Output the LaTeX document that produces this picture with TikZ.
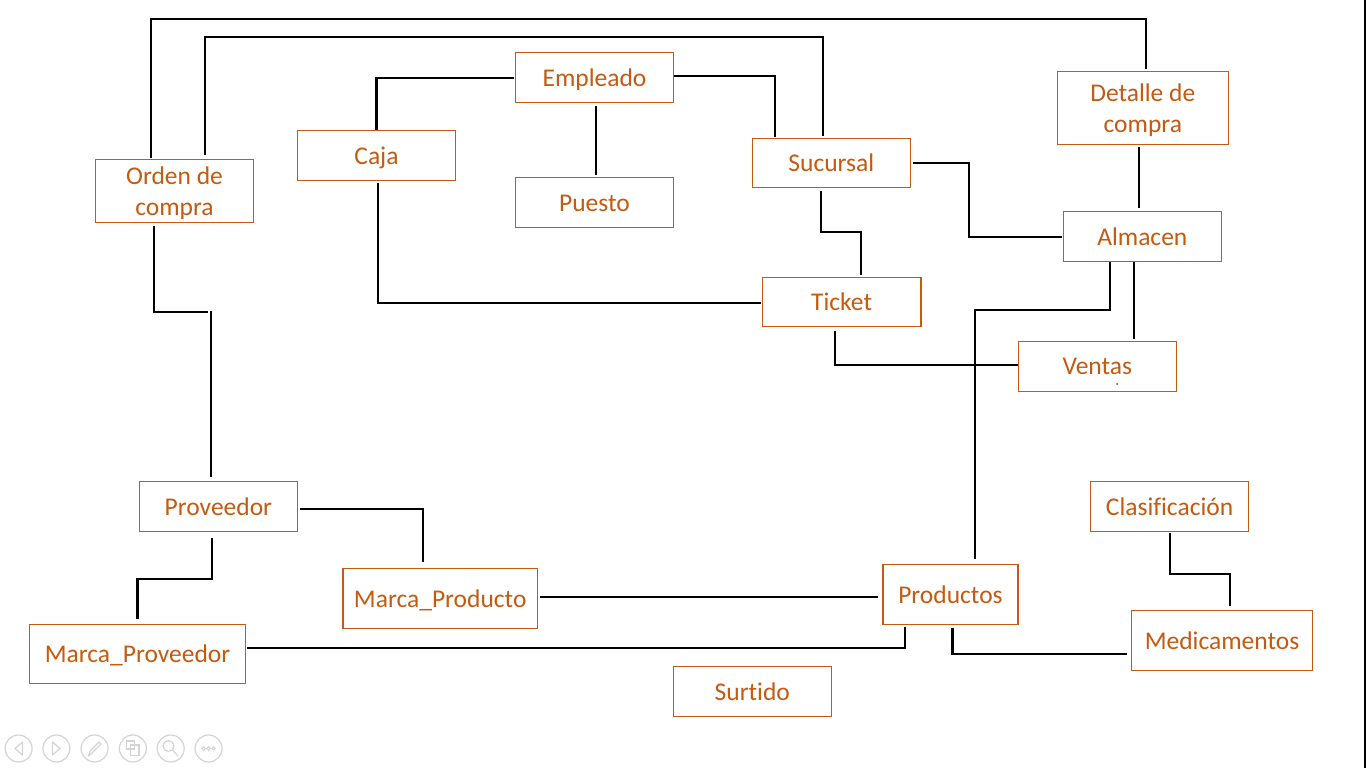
\documentclass[tikz,border=0pt]{standalone}
\usepackage{fontspec}
\setmainfont{Carlito}[Ligatures=NoCommon]
\usetikzlibrary{calc}
\definecolor{entorange}{HTML}{C55A11}
\definecolor{icongray}{HTML}{D4D4D4}
\begin{document}
\begin{tikzpicture}[x=1pt,y=-1pt,
  entbox/.style={draw=entorange, line width=1.3pt, text=entorange, inner sep=0pt, align=center, font=\fontsize{25.5}{30.5}\selectfont},
  oneline/.style={entbox, text height=22pt, text depth=4.6pt},
  rel/.style={draw=black, line width=2.2pt},
  icon/.style={draw=icongray, line width=1.2pt}]
\useasboundingbox (0,0) rectangle (1366,768);
\fill[white] (0,0) rectangle (1366,768);
% entities
\node[entbox, minimum width=158.4pt, minimum height=63pt] (orden) at (174.5,190.8) {\rule{0pt}{23pt}Orden de\\compra};
\node[oneline, minimum width=158.4pt, minimum height=50pt] (caja) at (376.5,155.3) {Caja};
\node[oneline, minimum width=158.4pt, minimum height=50pt] (empleado) at (594.5,77.3) {Empleado};
\node[oneline, minimum width=158.4pt, minimum height=50pt] (puesto) at (594.5,202.3) {Puesto};
\node[oneline, minimum width=158pt, minimum height=49pt] (sucursal) at (831.3,162.8) {Sucursal};
\node[oneline, minimum width=158.7pt, minimum height=49pt] (ticket) at (841.6,301.8) {Ticket};
\node[entbox, minimum width=171pt, minimum height=73pt] (detalle) at (1142.8,107.8) {\rule{0pt}{23pt}Detalle de\\compra};
\node[oneline, minimum width=158pt, minimum height=50pt] (almacen) at (1142.3,236.3) {Almacen};
\node[oneline, minimum width=158pt, minimum height=50pt] (ventas) at (1097.3,366.2) {Ventas};
\node[oneline, minimum width=158.2pt, minimum height=50pt] (proveedor) at (218.4,506.3) {Proveedor};
\node[oneline, minimum width=194.6pt, minimum height=60pt] (marcaproducto) at (440.2,598.3) {Marca\_Producto};
\node[oneline, minimum width=216.4pt, minimum height=59pt] (marcaproveedor) at (137.5,653.8) {Marca\_Proveedor};
\node[oneline, minimum width=135pt, minimum height=60pt] (productos) at (950.5,594.3) {Productos};
\node[oneline, minimum width=158pt, minimum height=50pt] (clasificacion) at (1169.6,506.3) {Clasificación};
\node[oneline, minimum width=180.7pt, minimum height=60pt] (medicamentos) at (1222,640.3) {Medicamentos};
\node[oneline, minimum width=158pt, minimum height=50pt] (surtido) at (752.3,691.3) {Surtido};
% connectors
\draw[rel] ($(orden.north)+(-23.5,-1)$) -- ++(0,-138.3) -| ($(detalle.north)+(3.5,-1.5)$);
\draw[rel] ($(orden.north)+(30.8,-4)$) -- ++(0,-118) -| ($(sucursal.north)+(-8.5,-2)$);
\draw[rel] (caja.north) |- ($(empleado.west)+(-1,0.4)$);
\draw[rel] ($(empleado.east)+(0,-1.3)$) -| ($(sucursal.north)+(-56,-1)$);
\draw[rel] ($(empleado.south)+(1.8,3)$) -- ($(puesto.north)+(1.8,-2)$);
\draw[rel] ($(caja.south)+(1.8,2)$) |- ($(ticket.west)+(-0.5,1.5)$);
\draw[rel] ($(sucursal.south)+(-10,3)$) -- ++(0,41) -| ($(ticket.north)+(19.7,-2)$);
\draw[rel] ($(sucursal.east)+(2,0)$) -- ++(56,0) |- ($(almacen.west)+(-1,0.4)$);
\draw[rel] ($(detalle.south)+(-3.5,2)$) -- ($(almacen.north)+(-3,-3)$);
\draw[rel] ($(almacen.south)+(-32.3,0)$) -- ++(0,48) -| ($(productos.north)+(24.2,-5)$);
\draw[rel] ($(almacen.south)+(-8.3,0)$) -- ($(ventas.north)+(36.7,-2)$);
\draw[rel] ($(ticket.south)+(-6.6,4)$) |- ($(ventas.west)+(0,-1.2)$);
\draw[rel] ($(orden.south)+(-20.8,3)$) -- ++(0,86) -- ++(54.6,0)
           ($(proveedor.north)+(-7.4,-3.7)$) -- ++(0,-165.6);
\draw[rel] ($(proveedor.east)+(1.5,3)$) -| ($(marcaproducto.north)+(-17,-5.6)$);
\draw[rel] ($(proveedor.south)+(-6.2,5.7)$) -- ++(0,41) -| ($(marcaproveedor.north)+(0,-4.6)$);
\draw[rel] ($(marcaproducto.east)+(1.8,-1)$) -- ($(productos.west)+(-4,3)$);
\draw[rel] ($(marcaproveedor.east)+(0.7,-5.5)$) -| ($(productos.south)+(-45.4,2.4)$);
\draw[rel] ($(productos.south)+(2,3)$) |- ($(medicamentos.west)+(-3.7,13.7)$);
\draw[rel] ($(clasificacion.south)+(0.5,1.5)$) -- ++(0,40.6) -| ($(medicamentos.north)+(7.7,-3.6)$);
% small artefacts
\fill[black!70] (1117,384) circle (1pt);
\draw[black, line width=1.6pt] (1365.2,0) -- (1365.2,768);
% slideshow controls
\foreach \cx in {18.6,56.4,94.6,132.9,170.7,208.6} {\draw[icon] (\cx,748.5) circle (13.5pt);}
\draw[icon, line join=round] (22.5,742) -- (15,748.5) -- (22.5,755) -- cycle;
\draw[icon, line join=round] (52.5,742) -- (60,748.5) -- (52.5,755) -- cycle;
\draw[icon, line join=round] (88.5,756) -- (90,751) -- (99,742) -- (101,744) -- (92,753) -- cycle;
\draw[icon] (126.5,741) rectangle (134.5,749) (130.5,745) rectangle (139,755.5);
\draw[icon] (168.5,746) circle (5.5pt) (172.5,750) -- (178,756);
\foreach \dx in {-5,0,5} {\draw[icon, line width=1pt] (208.6+\dx,748.5) circle (1.8pt);}
\end{tikzpicture}
\end{document}
